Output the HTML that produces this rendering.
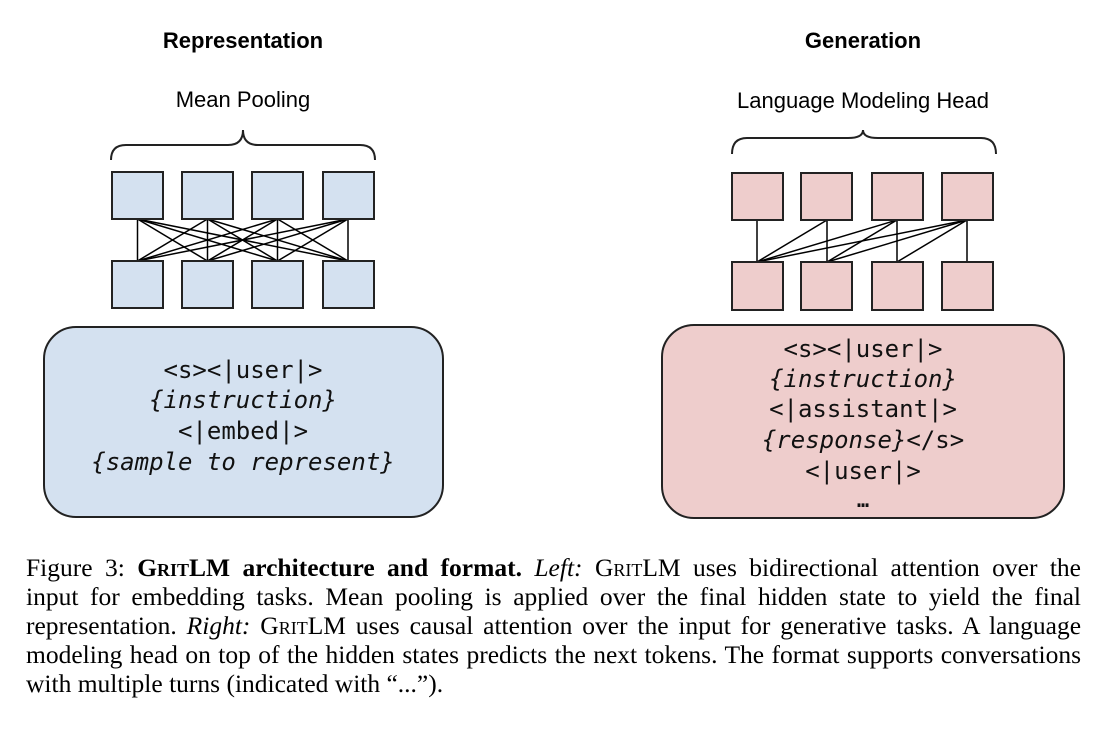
<!DOCTYPE html>
<html><head><meta charset="utf-8"><style>
body{margin:0;background:#fff;width:1104px;height:740px;overflow:hidden;position:relative}
.cap{position:absolute;left:26px;top:553px;width:1055px;font:25.5px/29px "Liberation Serif",serif;color:#000}
.cap div{text-align:justify;text-align-last:justify;white-space:nowrap;height:29px}
.cap div.last{text-align-last:left}
.sc{font-variant:small-caps}
</style></head><body>
<svg width="1104" height="740" style="position:absolute;left:0;top:0" font-family="Liberation Sans, sans-serif">
<text x="243" y="48" text-anchor="middle" font-weight="bold" font-size="22">Representation</text>
<text x="863" y="48" text-anchor="middle" font-weight="bold" font-size="22">Generation</text>
<text x="243" y="107" text-anchor="middle" font-size="22">Mean Pooling</text>
<text x="863" y="108" text-anchor="middle" font-size="22">Language Modeling Head</text>
<g fill="none" stroke="#222" stroke-width="2">
<path d="M111,160 Q111,145 126,145 L228,145 Q243,145 243,130 Q243,145 258,145 L360,145 Q375,145 375,160"/>
<path d="M732,154 Q732,138 747,138 L848,138 Q863,138 863,130 Q863,138 878,138 L981,138 Q996,138 996,154"/>
</g>
<g stroke="#000" stroke-width="1.5">
<line x1="137.5" y1="219" x2="137.5" y2="261"/><line x1="137.5" y1="219" x2="207.5" y2="261"/><line x1="137.5" y1="219" x2="277.5" y2="261"/><line x1="137.5" y1="219" x2="348" y2="261"/>
<line x1="207.5" y1="219" x2="137.5" y2="261"/><line x1="207.5" y1="219" x2="207.5" y2="261"/><line x1="207.5" y1="219" x2="277.5" y2="261"/><line x1="207.5" y1="219" x2="348" y2="261"/>
<line x1="277.5" y1="219" x2="137.5" y2="261"/><line x1="277.5" y1="219" x2="207.5" y2="261"/><line x1="277.5" y1="219" x2="277.5" y2="261"/><line x1="277.5" y1="219" x2="348" y2="261"/>
<line x1="348" y1="219" x2="137.5" y2="261"/><line x1="348" y1="219" x2="207.5" y2="261"/><line x1="348" y1="219" x2="277.5" y2="261"/><line x1="348" y1="219" x2="348" y2="261"/>
<line x1="757" y1="220" x2="757" y2="262"/>
<line x1="827" y1="220" x2="757" y2="262"/><line x1="827" y1="220" x2="827" y2="262"/>
<line x1="897" y1="220" x2="757" y2="262"/><line x1="897" y1="220" x2="827" y2="262"/><line x1="897" y1="220" x2="897" y2="262"/>
<line x1="967" y1="220" x2="757" y2="262"/><line x1="967" y1="220" x2="827" y2="262"/><line x1="967" y1="220" x2="897" y2="262"/><line x1="967" y1="220" x2="967" y2="262"/>
</g>
<g fill="#d4e1f0" stroke="#222" stroke-width="2">
<rect x="112" y="172" width="51" height="47"/><rect x="182" y="172" width="51" height="47"/><rect x="252" y="172" width="51" height="47"/><rect x="323" y="172" width="51" height="47"/>
<rect x="112" y="261" width="51" height="47"/><rect x="182" y="261" width="51" height="47"/><rect x="252" y="261" width="51" height="47"/><rect x="323" y="261" width="51" height="47"/>
<rect x="44" y="327" width="399" height="190" rx="32"/>
</g>
<g fill="#eecdcc" stroke="#222" stroke-width="2">
<rect x="732" y="173" width="51" height="47"/><rect x="801" y="173" width="51" height="47"/><rect x="872" y="173" width="51" height="47"/><rect x="942" y="173" width="51" height="47"/>
<rect x="732" y="262" width="51" height="48"/><rect x="801" y="262" width="51" height="48"/><rect x="872" y="262" width="51" height="48"/><rect x="942" y="262" width="51" height="48"/>
<rect x="662" y="325" width="402" height="193" rx="32"/>
</g>
<g font-family="DejaVu Sans Mono, Liberation Mono, monospace" font-size="24" text-anchor="middle" fill="#111">
<text x="243" y="378">&lt;s&gt;&lt;|user|&gt;</text>
<text x="243" y="408" font-style="italic">{instruction}</text>
<text x="243" y="439">&lt;|embed|&gt;</text>
<text x="243" y="470" font-style="italic">{sample to represent}</text>
<text x="863" y="357">&lt;s&gt;&lt;|user|&gt;</text>
<text x="863" y="387" font-style="italic">{instruction}</text>
<text x="863" y="417">&lt;|assistant|&gt;</text>
<text x="863" y="448"><tspan font-style="italic">{response}</tspan>&lt;/s&gt;</text>
<text x="863" y="479">&lt;|user|&gt;</text>
<text x="863" y="507" font-weight="bold" font-size="20">…</text>
</g>
</svg>
<div class="cap">
<div>Figure 3: <b><span class="sc">Grit</span>LM architecture and format.</b> <i>Left:</i> <span class="sc">Grit</span>LM uses bidirectional attention over the</div>
<div>input for embedding tasks. Mean pooling is applied over the final hidden state to yield the final</div>
<div>representation. <i>Right:</i> <span class="sc">Grit</span>LM uses causal attention over the input for generative tasks. A language</div>
<div>modeling head on top of the hidden states predicts the next tokens. The format supports conversations</div>
<div class="last">with multiple turns (indicated with “...”).</div>
</div>
</body></html>
